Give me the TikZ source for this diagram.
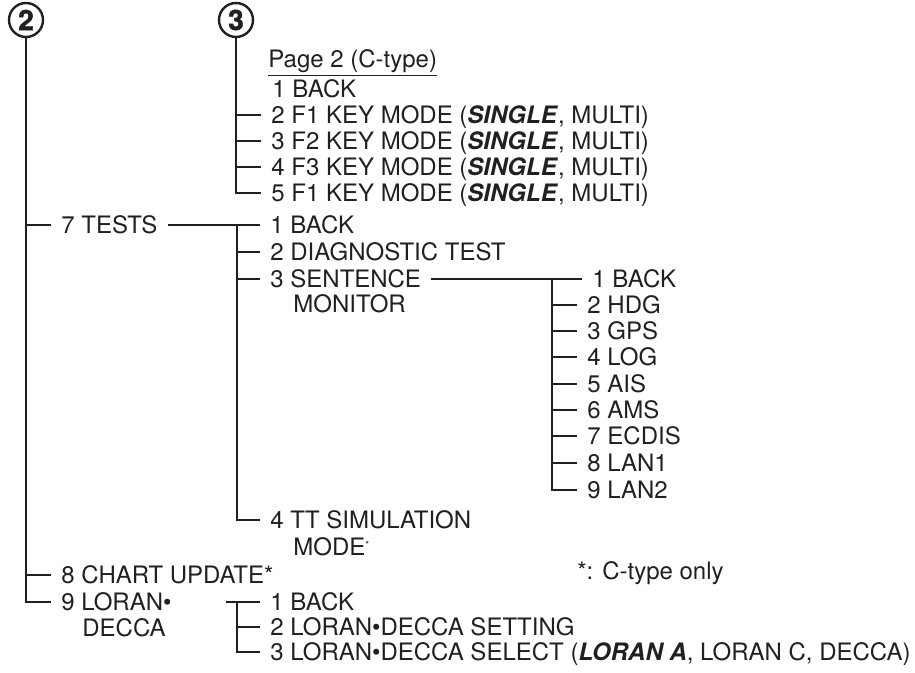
\documentclass[tikz,border=0pt]{standalone}
\usepackage{fontspec}
\setmainfont{TeX Gyre Heros}
\newfontfamily\markfont[BoldFeatures={FakeBold=1.6}]{TeX Gyre Heros}
\definecolor{ink}{HTML}{231F20}
\begin{document}
\begin{tikzpicture}[x=0.5pt,y=-0.5pt,
  every node/.style={font=\fontsize{12}{13.5}\selectfont,text=ink},
  item/.style={anchor=west,inner xsep=5pt,inner ysep=0pt,text height=8.6pt,text depth=0pt},
  num/.style={draw=ink,circle,line width=1.2pt,minimum size=17pt,inner sep=0pt,font=\markfont\bfseries\fontsize{14}{14}\selectfont},
  link/.style={draw=ink,line width=0.6pt}]
\useasboundingbox (0,0) rectangle (915,673);
% circled page marks
\node[num] (c2) at (26,20) {2};
\node[num] (c3) at (236,20) {3};
% page 3: key modes
\node[item] (pg) at (258,59) {\underline{Page 2 (C-type)}};
\node[item] (k1) at (262,89) {1 BACK};
\node[item] (k2) at (261,115) {2 F1 KEY MODE (\textbf{\textit{SINGLE}}, MULTI)};
\node[item] (k3) at (261,141) {3 F2 KEY MODE (\textbf{\textit{SINGLE}}, MULTI)};
\node[item] (k4) at (261,167) {4 F3 KEY MODE (\textbf{\textit{SINGLE}}, MULTI)};
\node[item] (k5) at (261,193) {5 F1 KEY MODE (\textbf{\textit{SINGLE}}, MULTI)};
\draw[link] (c3.south) |- (k5.west);
\draw[link] (c3 |- k2.west) -- (k2.west);
\draw[link] (c3 |- k3.west) -- (k3.west);
\draw[link] (c3 |- k4.west) -- (k4.west);
% page 2: tests
\node[item] (t7) at (51,225) {7 TESTS};
\node[item] (tb) at (260,225) {1 BACK};
\node[item] (td) at (260,252) {2 DIAGNOSTIC TEST};
\node[item] (ts) at (260,279) {3 SENTENCE};
\node[item] (tsm) at (283,304) {MONITOR};
\node[item] (tt) at (260,520) {4 TT SIMULATION};
\node[item] (ttm) at (283,547) {MODE\raisebox{0.55ex}{\fontsize{5}{5}\selectfont *}};
\coordinate (tj) at (237,225);
\draw[link] (t7.east) -- (tb.west);
\draw[link] (tj) |- (tt.west);
\draw[link] (tj |- td.west) -- (td.west);
\draw[link] (tj |- ts.west) -- (ts.west);
% sentence monitor
\node[item] (m1) at (582,279) {1 BACK};
\node[item] (m2) at (577,305) {2 HDG};
\node[item] (m3) at (577,331) {3 GPS};
\node[item] (m4) at (577,357) {4 LOG};
\node[item] (m5) at (577,384) {5 AIS};
\node[item] (m6) at (577,410) {6 AMS};
\node[item] (m7) at (577,436) {7 ECDIS};
\node[item] (m8) at (577,463) {8 LAN1};
\node[item] (m9) at (577,490) {9 LAN2};
\coordinate (mj) at (552,279);
\draw[link] (ts.east) -- (m1.west);
\draw[link] (mj) |- (m9.west);
\draw[link] (mj |- m2.west) -- (m2.west);
\draw[link] (mj |- m3.west) -- (m3.west);
\draw[link] (mj |- m4.west) -- (m4.west);
\draw[link] (mj |- m5.west) -- (m5.west);
\draw[link] (mj |- m6.west) -- (m6.west);
\draw[link] (mj |- m7.west) -- (m7.west);
\draw[link] (mj |- m8.west) -- (m8.west);
% chart update, loran/decca
\node[item] (ch) at (51,575) {8 CHART UPDATE*};
\node[item] (lo) at (51,602) {9 LORAN•};
\node[item] (lod) at (72,628) {DECCA};
\node[anchor=west,inner sep=0pt] (note) at (577,573) {*: C-type only};
\node[item] (l1) at (260,602) {1 BACK};
\node[item] (l2) at (260,627) {2 LORAN•DECCA SETTING};
\node[item] (l3) at (260,652) {3 LORAN•DECCA SELECT (\textbf{\textit{LORAN A}}, LORAN C, DECCA)};
\coordinate (ls) at (226,602);
\coordinate (lj) at (237,602);
\draw[link] (ls) -- (l1.west);
\draw[link] (lj) |- (l3.west);
\draw[link] (lj |- l2.west) -- (l2.west);
% main spine
\draw[link] (c2.south) |- (lo.west);
\draw[link] (c2 |- t7.west) -- (t7.west);
\draw[link] (c2 |- ch.west) -- (ch.west);
\end{tikzpicture}
\end{document}
